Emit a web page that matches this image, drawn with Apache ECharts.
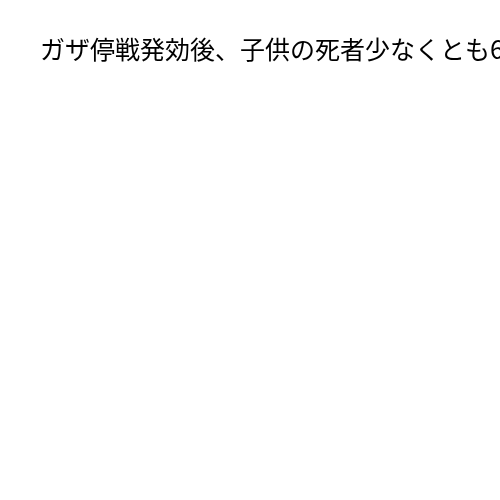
<!DOCTYPE html>
<html>
<head>
<meta charset="utf-8">
<script src="https://cdn.jsdelivr.net/npm/echarts@6/dist/echarts.min.js"></script>
<style>
html,body{margin:0;padding:0;background:#fff;}
#main{width:500px;height:500px;}
</style>
</head>
<body>
<div id="main"></div>
<script>
var titleText = 'ガザ停戦発効後、子供の死者少なくとも6';
var categories = [];
var values = [];

var chart = echarts.init(document.getElementById('main'), null, {renderer: 'canvas'});
chart.setOption({
  backgroundColor: '#ffffff',
  animation: false,
  title: {
    text: titleText,
    left: 35,
    top: 32,
    textStyle: {
      fontFamily: '"Noto Sans CJK JP", sans-serif',
      fontSize: 25,
      fontWeight: 'normal',
      color: '#000000'
    }
  },
  series: []
});
</script>
</body>
</html>
